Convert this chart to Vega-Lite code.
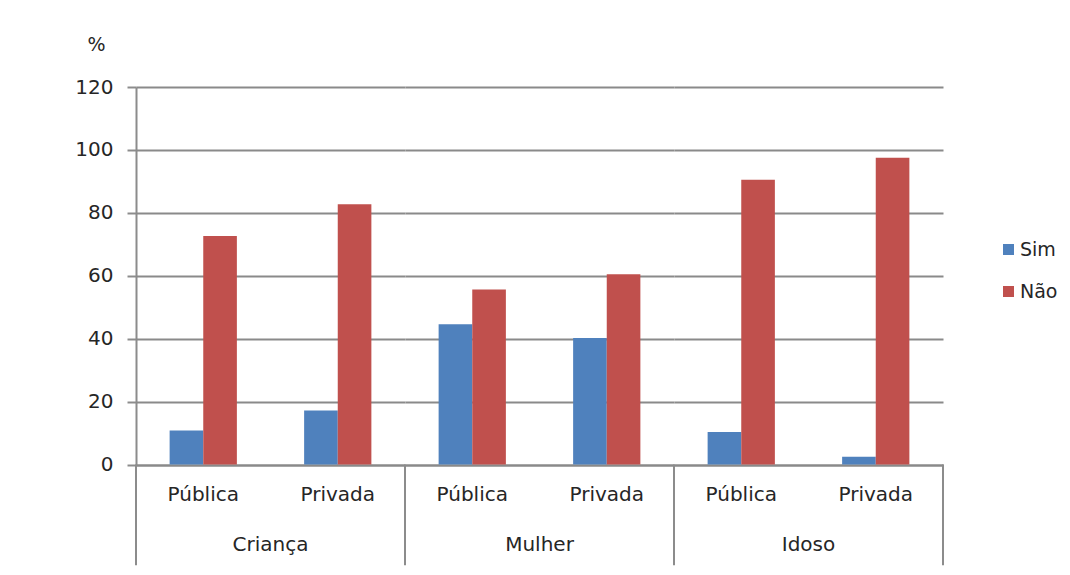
{
  "$schema": "https://vega.github.io/schema/vega-lite/v6.json",
  "background": "white",
  "padding": {"left": 74, "top": 35, "right": 5, "bottom": 5},
  "bounds": "flush",
  "data": {
    "values": [
      {"grupo": "Criança", "tipo": "Pública", "serie": "Sim", "valor": 10.8},
      {"grupo": "Criança", "tipo": "Pública", "serie": "Não", "valor": 72.6},
      {"grupo": "Criança", "tipo": "Privada", "serie": "Sim", "valor": 17.2},
      {"grupo": "Criança", "tipo": "Privada", "serie": "Não", "valor": 82.7},
      {"grupo": "Mulher", "tipo": "Pública", "serie": "Sim", "valor": 44.6},
      {"grupo": "Mulher", "tipo": "Pública", "serie": "Não", "valor": 55.6},
      {"grupo": "Mulher", "tipo": "Privada", "serie": "Sim", "valor": 40.2},
      {"grupo": "Mulher", "tipo": "Privada", "serie": "Não", "valor": 60.5},
      {"grupo": "Idoso", "tipo": "Pública", "serie": "Sim", "valor": 10.3},
      {"grupo": "Idoso", "tipo": "Pública", "serie": "Não", "valor": 90.5},
      {"grupo": "Idoso", "tipo": "Privada", "serie": "Sim", "valor": 2.5},
      {"grupo": "Idoso", "tipo": "Privada", "serie": "Não", "valor": 97.5}
    ]
  },
  "facet": {
    "column": {
      "field": "grupo",
      "type": "nominal",
      "sort": ["Criança", "Mulher", "Idoso"],
      "header": {
        "title": null,
        "labelOrient": "bottom",
        "labelFont": "DejaVu Sans",
        "labelFontSize": 20,
        "labelColor": "#262626",
        "labelPadding": 31
      }
    }
  },
  "spacing": 0,
  "spec": {
    "width": 269,
    "height": 377.5,
    "encoding": {
      "x": {
        "field": "tipo",
        "type": "nominal",
        "sort": ["Pública", "Privada"],
        "scale": {"paddingInner": 0, "paddingOuter": 0},
        "axis": {
          "title": null,
          "labelAngle": 0,
          "ticks": false,
          "labelPadding": 19,
          "domainColor": "#8c8c8c",
          "domainWidth": 2
        }
      },
      "y": {
        "field": "valor",
        "type": "quantitative",
        "scale": {"domain": [0, 120], "nice": false},
        "axis": {
          "values": [0, 20, 40, 60, 80, 100, 120],
          "title": "%",
          "titleAngle": 0,
          "titleAlign": "center",
          "titleBaseline": "middle",
          "titleX": -40,
          "titleY": -43,
          "titleFont": "DejaVu Sans",
          "titleFontSize": 19,
          "titleFontWeight": "normal",
          "titleColor": "#262626",
          "tickSize": 9,
          "tickWidth": 2,
          "tickColor": "#8c8c8c",
          "labelPadding": 14,
          "domainColor": "#8c8c8c",
          "domainWidth": 2,
          "gridColor": "#8a8a8a",
          "gridWidth": 2.2
        }
      }
    },
    "layer": [
      {
        "mark": {"type": "bar"},
        "encoding": {
          "xOffset": {
            "field": "serie",
            "sort": ["Sim", "Não"],
            "scale": {"paddingInner": 0, "paddingOuter": 1.58}
          },
          "color": {
            "field": "serie",
            "type": "nominal",
            "sort": ["Sim", "Não"],
            "scale": {"domain": ["Sim", "Não"], "range": ["#4F81BD", "#C0504D"]},
            "legend": {
              "title": null,
              "orient": "none",
              "legendX": 863,
              "legendY": 153,
              "symbolType": "square",
              "symbolSize": 121,
              "symbolStrokeWidth": 0,
              "labelOffset": 2,
              "rowPadding": 22,
              "labelFont": "DejaVu Sans",
              "labelFontSize": 19,
              "labelColor": "#262626"
            }
          }
        }
      },
      {
        "transform": [{"filter": "datum.tipo === 'Pública' && datum.serie === 'Sim'"}],
        "mark": {"type": "rule", "color": "#8c8c8c", "strokeWidth": 2, "clip": false},
        "encoding": {
          "x": {"field": "tipo", "type": "nominal", "bandPosition": 0},
          "y": {"datum": 0},
          "y2": {"datum": -32}
        }
      },
      {
        "transform": [{"filter": "datum.grupo === 'Idoso' && datum.tipo === 'Privada' && datum.serie === 'Sim'"}],
        "mark": {"type": "rule", "color": "#8c8c8c", "strokeWidth": 2, "clip": false},
        "encoding": {
          "x": {"field": "tipo", "type": "nominal", "bandPosition": 1},
          "y": {"datum": 0},
          "y2": {"datum": -32}
        }
      }
    ]
  },
  "config": {
    "view": {"stroke": null},
    "axis": {
      "labelFont": "DejaVu Sans",
      "labelFontSize": 20,
      "labelColor": "#262626",
      "grid": true
    },
    "axisX": {"grid": false}
  }
}
